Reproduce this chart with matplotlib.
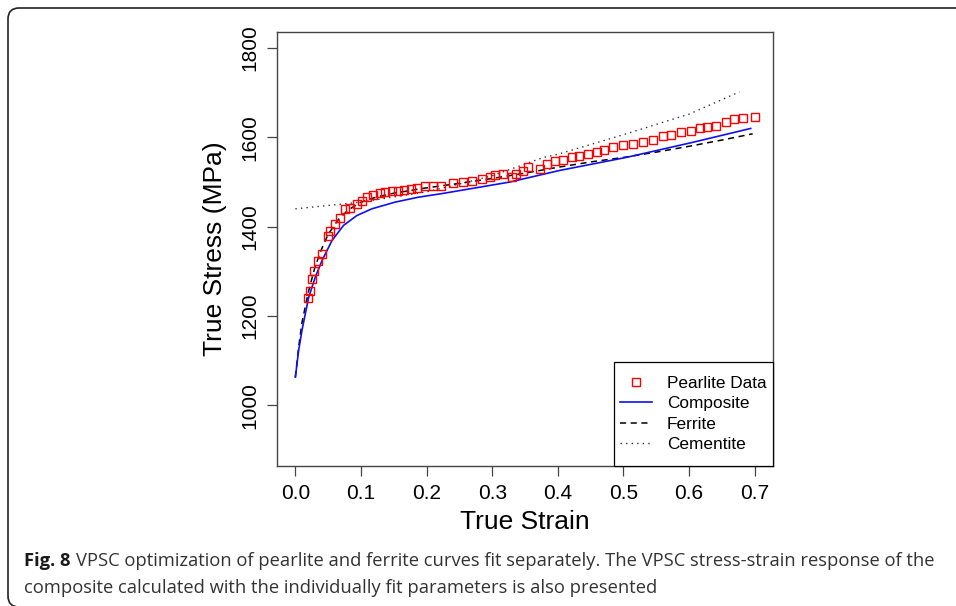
import matplotlib
matplotlib.use("Agg")
import matplotlib.pyplot as plt
from matplotlib.patches import FancyBboxPatch, Rectangle

# ---------------- data ----------------
pearlite_strain = [0.020, 0.022, 0.025, 0.028, 0.034, 0.040, 0.049, 0.053, 0.060, 0.068,
                   0.076, 0.084, 0.094, 0.101, 0.109, 0.119, 0.129, 0.137, 0.147, 0.156,
                   0.166, 0.177, 0.186, 0.198, 0.210, 0.222, 0.241, 0.256, 0.269, 0.284,
                   0.297, 0.304, 0.317, 0.330, 0.337, 0.347, 0.355, 0.373, 0.383, 0.395,
                   0.408, 0.421, 0.433, 0.446, 0.459, 0.471, 0.484, 0.499, 0.514, 0.530,
                   0.545, 0.560, 0.573, 0.588, 0.603, 0.616, 0.628, 0.641, 0.656, 0.669,
                   0.682, 0.700]
pearlite_stress = [1241, 1256, 1282, 1300, 1324, 1339, 1380, 1390, 1406, 1420,
                   1440, 1442, 1451, 1457, 1466, 1472, 1475, 1478, 1481, 1481,
                   1482, 1485, 1486, 1490, 1491, 1491, 1497, 1500, 1503, 1507,
                   1512, 1515, 1518, 1512, 1517, 1524, 1533, 1530, 1541, 1547,
                   1550, 1555, 1559, 1563, 1567, 1572, 1578, 1582, 1585, 1589,
                   1594, 1602, 1606, 1611, 1615, 1620, 1623, 1626, 1634, 1641,
                   1644, 1646]

composite_strain = [0.0, 0.005, 0.0101, 0.0203, 0.0304, 0.0406, 0.0558, 0.0735, 0.0938,
                    0.1166, 0.152, 0.1875, 0.223, 0.327, 0.403, 0.504, 0.606, 0.694]
composite_stress = [1063, 1123, 1168, 1242, 1287, 1324, 1369, 1403, 1425,
                    1440, 1455, 1466, 1474, 1500, 1526, 1555, 1589, 1620]

ferrite_strain = [0.0, 0.005, 0.010, 0.020, 0.030, 0.040, 0.050, 0.065, 0.080, 0.100,
                  0.125, 0.150, 0.200, 0.250, 0.300, 0.350, 0.400, 0.450, 0.500, 0.550,
                  0.600, 0.650, 0.697]
ferrite_stress = [1063, 1130, 1185, 1255, 1310, 1350, 1383, 1415, 1437, 1455,
                  1467, 1475, 1487, 1497, 1508, 1520, 1533, 1545, 1555, 1567,
                  1580, 1594, 1608]

cementite_strain = [0.0, 0.1, 0.2, 0.251, 0.3, 0.378, 0.4, 0.5, 0.6, 0.677]
cementite_stress = [1440, 1455, 1478, 1496, 1514, 1555, 1562, 1606, 1652, 1702]

x_ticks = [0.0, 0.1, 0.2, 0.3, 0.4, 0.5, 0.6, 0.7]
y_ticks = [1000, 1200, 1400, 1600, 1800]

caption_bold = "Fig. 8"
caption_line1 = ("VPSC optimization of pearlite and ferrite curves fit separately. "
                 "The VPSC stress-strain response of the")
caption_line2 = "composite calculated with the individually fit parameters is also presented"

# ---------------- figure ----------------
W, H = 956, 606
DPI = 100
fig = plt.figure(figsize=(W / DPI, H / DPI), dpi=DPI)

L, R, T, B = 277, 773, 32, 466
ax = fig.add_axes([L / W, (H - B) / H, (R - L) / W, (B - T) / H])

ax.plot(cementite_strain, cementite_stress, color="#333333", lw=1.0,
        linestyle=(0, (1, 3)), label="Cementite", zorder=2)
ax.plot(ferrite_strain, ferrite_stress, color="black", lw=1.1,
        linestyle=(0, (4, 3)), label="Ferrite", zorder=3)
ax.plot(composite_strain, composite_stress, color="#1010ee", lw=1.2,
        label="Composite", zorder=3)
ax.plot(pearlite_strain, pearlite_stress, linestyle="none", marker="s",
        markersize=6.2, markerfacecolor="none", markeredgecolor="red",
        markeredgewidth=1.0, label="Pearlite Data", zorder=4)

ax.set_xlim(-0.028, 0.728)
ax.set_ylim(864, 1836)
ax.set_xticks(x_ticks)
ax.set_xticklabels([f"{v:.1f}" for v in x_ticks])
ax.set_yticks(y_ticks)
ax.set_yticklabels([str(v) for v in y_ticks], rotation=90, va="center")

fam = ["Liberation Sans", "DejaVu Sans"]
for lab in ax.get_xticklabels() + ax.get_yticklabels():
    lab.set_family(fam)
    lab.set_fontsize(15)
ax.tick_params(axis="both", length=7, width=0.9, color="#444444", direction="out")
ax.tick_params(axis="x", pad=5.8)
ax.tick_params(axis="y", pad=6.0)

for sp in ax.spines.values():
    sp.set_color("#444444")
    sp.set_linewidth(1.0)

ax.set_xlabel("True Strain", family=fam, fontsize=19, labelpad=5)
ax.set_ylabel("True Stress (MPa)", family=fam, fontsize=19, labelpad=9)

# legend box (R style) and its entries centred inside
lx0 = (614 - L) / (R - L)
lh = (B - 362) / (B - T)
ax.add_patch(Rectangle((lx0, 0), 1 - lx0, lh, transform=ax.transAxes,
                       facecolor="white", edgecolor="black", linewidth=0.9,
                       zorder=5, clip_on=False))
handles, labels = ax.get_legend_handles_labels()
order = [3, 2, 1, 0]
leg = ax.legend([handles[i] for i in order], [labels[i] for i in order],
                loc="center", bbox_to_anchor=(lx0, 0, 1 - lx0, lh), borderaxespad=0,
                frameon=False, prop={"family": fam, "size": 12.4}, handlelength=1.85,
                handletextpad=0.85, labelspacing=0.31, borderpad=0)
leg.set_zorder(6)

# ---------------- border & caption ----------------
box = FancyBboxPatch((8 / DPI, -1 / DPI), (W + 30) / DPI, (H - 8 + 1) / DPI,
                     boxstyle="round,pad=0,rounding_size=0.11",
                     transform=fig.dpi_scale_trans, fill=False,
                     edgecolor="#222222", linewidth=1.2, clip_on=False)
fig.add_artist(box)

cap_fam = ["Open Sans", "DejaVu Sans"]
renderer = fig.canvas.get_renderer()

def make_caption(size):
    t_b = fig.text(24 / W, 1 - 561 / H, caption_bold, family=cap_fam, fontsize=size,
                   fontweight="bold", va="center", ha="left", color="#1a1a1a")
    wb = t_b.get_window_extent(renderer).width
    t1 = fig.text((24 + wb + 0.28 * size * DPI / 72) / W, 1 - 561 / H, caption_line1,
                  family=cap_fam, fontsize=size, va="center", ha="left", color="#333333")
    t2 = fig.text(24 / W, 1 - 588 / H, caption_line2, family=cap_fam, fontsize=size,
                  va="center", ha="left", color="#333333")
    return t_b, t1, t2

size = 14.0
texts = make_caption(size)
right = texts[1].get_window_extent(renderer).x1
target = 937
for t in texts:
    t.remove()
size = size * (target - 24) / (right - 24)
make_caption(size)

fig.savefig("out.png", dpi=DPI)
